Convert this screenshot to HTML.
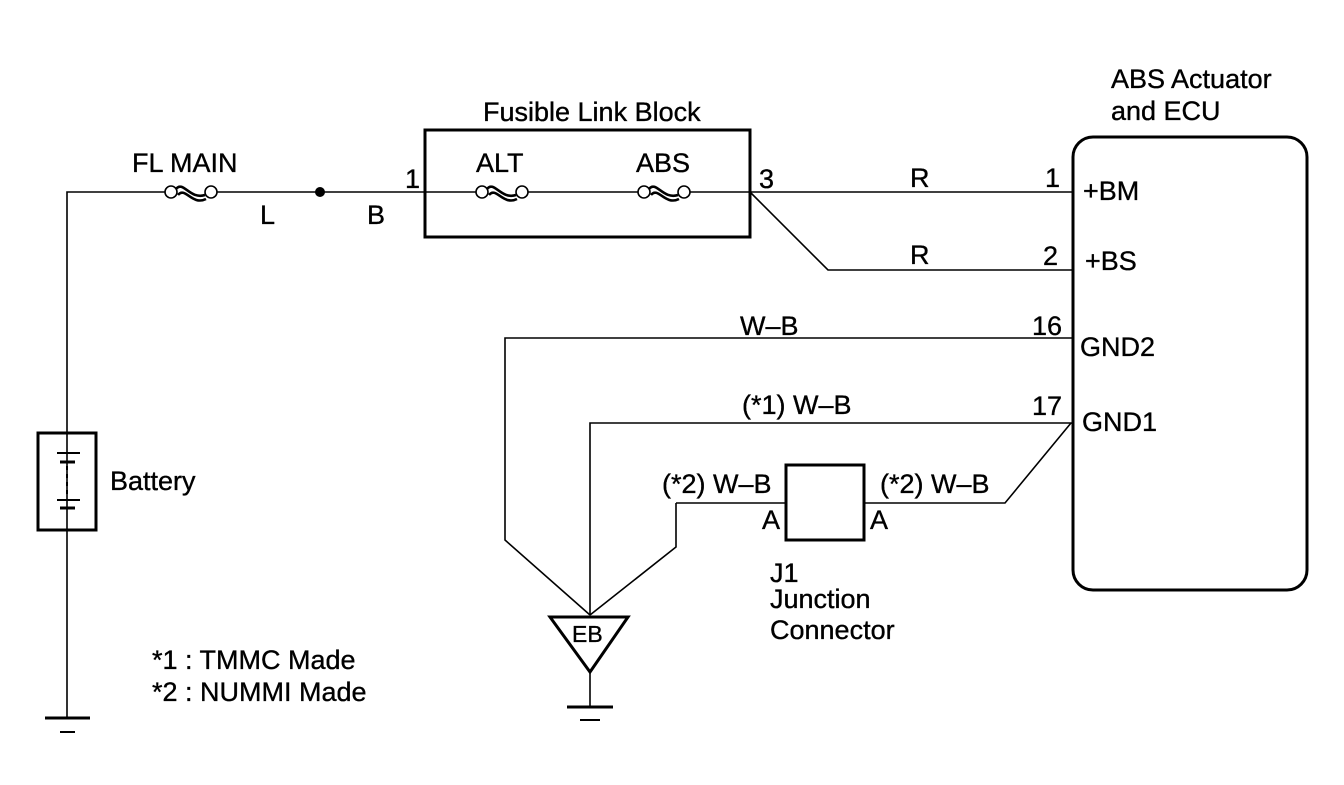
<!DOCTYPE html>
<html><head><meta charset="utf-8"><style>
html,body{margin:0;padding:0;background:#fff;}
svg text{font-family:"Liberation Sans",Arial,sans-serif;font-size:27px;fill:#000;stroke:#000;stroke-width:0.35;}
</style></head><body>
<svg width="1344" height="780" viewBox="0 0 1344 780" xmlns="http://www.w3.org/2000/svg">
<g stroke="#000" fill="none" stroke-width="1.6">
<polyline points="67,718 67,192 165,192"/>
<line x1="205" y1="192" x2="476" y2="192"/>
<line x1="524" y1="192" x2="638" y2="192"/>
<line x1="686" y1="192" x2="1073" y2="192"/>
<polyline points="750,192 828,270 1073,270"/>
<polyline points="1073,338 505,338 505,540 590,615"/>
<polyline points="1073,423 590,423 590,615"/>
<polyline points="1071,423 1005,503 864,503"/>
<line x1="786" y1="503" x2="676" y2="503"/>
<polyline points="676,503 676,547 590,615"/>
<line x1="590" y1="672" x2="590" y2="707"/>
</g>
<g stroke="#000" stroke-width="1.6" fill="#fff">
<circle cx="171" cy="192" r="6"/><circle cx="211" cy="192" r="6"/>
<circle cx="482" cy="192" r="6"/><circle cx="522" cy="192" r="6"/>
<circle cx="644" cy="192" r="6"/><circle cx="684" cy="192" r="6"/>
</g>
<g stroke="#000" stroke-width="2.6" fill="none">
<path d="M176,189 C183,180 190,200 205,195 M178,195 C185,186 192,206 206,199"/>
<path d="M487,189 C494,180 501,200 516,195 M489,195 C496,186 503,206 517,199"/>
<path d="M649,189 C656,180 663,200 678,195 M651,195 C658,186 665,206 679,199"/>
</g>
<circle cx="320" cy="192" r="5" fill="#000"/>
<g stroke="#000" stroke-width="3" fill="none">
<rect x="425" y="130" width="325" height="107"/>
<rect x="1073" y="137" width="234" height="453" rx="20"/>
<rect x="38" y="433" width="58" height="97"/>
<rect x="786" y="465" width="78" height="75"/>
</g>
<g stroke="#000" stroke-width="2">
<line x1="57" y1="453" x2="80" y2="453"/><line x1="60" y1="462" x2="75" y2="462" stroke-width="3"/>
<line x1="67" y1="466" x2="67" y2="496" stroke-dasharray="4,4"/>
<line x1="57" y1="500" x2="80" y2="500"/><line x1="60" y1="508" x2="75" y2="508" stroke-width="3"/>
<line x1="45" y1="718" x2="90" y2="718" stroke-width="3"/><line x1="60" y1="732" x2="75" y2="732"/>
<line x1="567" y1="707" x2="613" y2="707" stroke-width="3"/><line x1="580" y1="720" x2="600" y2="720"/>
</g>
<polygon points="550,617 628,617 590,672" fill="#fff" stroke="#000" stroke-width="3"/>
<text x="572" y="642" style="font-size:23px">EB</text>
<text x="132" y="172">FL MAIN</text>
<text x="260" y="224">L</text>
<text x="367" y="224">B</text>
<text x="405" y="188">1</text>
<text x="483" y="121">Fusible Link Block</text>
<text x="476" y="172">ALT</text>
<text x="636" y="172">ABS</text>
<text x="759" y="188">3</text>
<text x="910" y="187">R</text>
<text x="910" y="264">R</text>
<text x="1045" y="187">1</text>
<text x="1043" y="265">2</text>
<text x="1032" y="335">16</text>
<text x="1032" y="415">17</text>
<text x="1083" y="200">+BM</text>
<text x="1085" y="270">+BS</text>
<text x="1080" y="356">GND2</text>
<text x="1082" y="431">GND1</text>
<text x="1111" y="88">ABS Actuator</text>
<text x="1111" y="120">and ECU</text>
<text x="740" y="335">W–B</text>
<text x="742" y="414">(*1) W–B</text>
<text x="662" y="493">(*2) W–B</text>
<text x="880" y="493">(*2) W–B</text>
<text x="762" y="529">A</text>
<text x="870" y="529">A</text>
<text x="770" y="582">J1</text>
<text x="770" y="608">Junction</text>
<text x="770" y="639">Connector</text>
<text x="110" y="490">Battery</text>
<text x="152" y="669">*1 : TMMC Made</text>
<text x="152" y="701">*2 : NUMMI Made</text>
</svg>
</body></html>
